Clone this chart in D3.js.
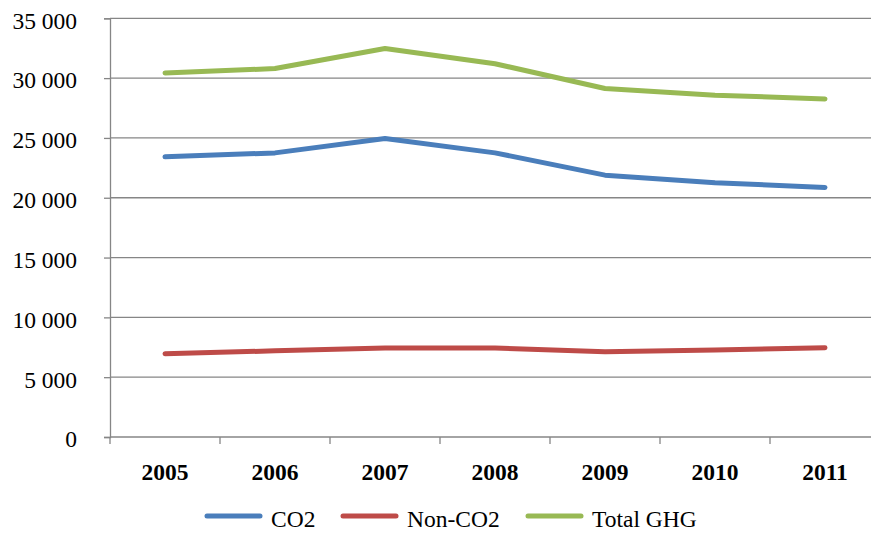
<!DOCTYPE html>
<html><head><meta charset="utf-8">
<script src="https://cdn.jsdelivr.net/npm/d3@7"></script>
<style>body{margin:0;background:#fff}svg{display:block}</style>
</head><body>
<svg id="c" width="871" height="533"></svg>
<script>
const years = ["2005","2006","2007","2008","2009","2010","2011"];
const co2 = [23420, 23750, 24950, 23750, 21890, 21250, 20860];
const nonCo2 = [6960, 7200, 7430, 7430, 7130, 7270, 7460];
const totalGhg = [30430, 30800, 32470, 31200, 29130, 28570, 28260];
const yTicks = [0, 5000, 10000, 15000, 20000, 25000, 30000, 35000];
const seriesNames = ["CO2", "Non-CO2", "Total GHG"];
const seriesColors = ["#4a7ebb", "#be4b48", "#98b954"];

const FONT = '"Liberation Serif"';
const FS = 23.5;
const svg = d3.select("#c");
const pLeft = 110, pRight = 880, pTop = 18.3, pBottom = 437;
const x = d3.scaleBand().domain(years).range([pLeft, pRight]);
const y = d3.scaleLinear().domain([0, 35000]).range([pBottom, pTop]);
const grid = "#868686";
const fmt = v => d3.format(",")(v).replace(/,/g, " ");

// gridlines
svg.append("g").selectAll("line").data(yTicks.filter(d => d > 0)).join("line")
  .attr("x1", pLeft).attr("x2", pRight)
  .attr("y1", d => y(d)).attr("y2", d => y(d))
  .attr("stroke", grid).attr("stroke-width", 1.3);

// y axis
const ya = svg.append("g").attr("transform", `translate(${pLeft},0)`)
  .call(d3.axisLeft(y).tickValues(yTicks).tickFormat(fmt).tickSize(6).tickPadding(27));
ya.select(".domain").attr("stroke", grid).attr("stroke-width", 1.3);
ya.selectAll(".tick line").attr("stroke", grid).attr("stroke-width", 1.3);
ya.selectAll("text").style("font-family", FONT)
  .attr("font-size", FS).attr("fill", "#000").attr("dy", "0.42em");

// x axis
const xa = svg.append("g").attr("transform", `translate(0,${pBottom})`)
  .call(d3.axisBottom(x).tickSize(0).tickPadding(26));
xa.select(".domain").remove();
xa.selectAll("text").style("font-family", FONT)
  .attr("font-size", FS).attr("font-weight", "bold").attr("fill", "#000");
svg.append("line").attr("x1", pLeft).attr("x2", pRight).attr("y1", pBottom).attr("y2", pBottom)
  .attr("stroke", grid).attr("stroke-width", 1.3);
svg.append("g").selectAll("line").data(years).join("line")
  .attr("x1", d => x(d)).attr("x2", d => x(d))
  .attr("y1", pBottom).attr("y2", pBottom + 7)
  .attr("stroke", grid).attr("stroke-width", 1.3);

// lines
const series = [co2, nonCo2, totalGhg];
const line = d3.line().x((d, i) => x(years[i]) + x.bandwidth() / 2).y(d => y(d));
series.forEach((s, i) => {
  svg.append("path").attr("d", line(s)).attr("fill", "none")
    .attr("stroke", seriesColors[i]).attr("stroke-width", 5)
    .attr("stroke-linecap", "round").attr("stroke-linejoin", "round");
});

// legend
const legX = [207, 343, 528];
const lg = svg.append("g");
seriesNames.forEach((n, i) => {
  lg.append("line").attr("x1", legX[i]).attr("x2", legX[i] + 53).attr("y1", 516).attr("y2", 516)
    .attr("stroke", seriesColors[i]).attr("stroke-width", 5).attr("stroke-linecap", "round");
  lg.append("text").attr("x", legX[i] + 64).attr("y", 527).text(n)
    .style("font-family", FONT).attr("font-size", FS).attr("fill", "#000");
});
</script>
</body></html>
